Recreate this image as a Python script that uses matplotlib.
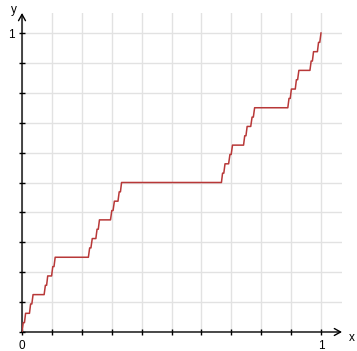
import numpy as np
import matplotlib
matplotlib.use('Agg')
import matplotlib.pyplot as plt

# plateaus of the staircase: start, end and level of each flat piece
flat_x0 = [0.0041, 0.012, 0.0288, 0.037, 0.0782, 0.086, 0.1029, 0.111,
           0.2263, 0.235, 0.2510, 0.259, 0.3004, 0.309, 0.3251, 0.333,
           0.6708, 0.679, 0.6955, 0.704, 0.7449, 0.753, 0.7695, 0.778,
           0.8930, 0.901, 0.9177, 0.926, 0.9671, 0.975, 0.9918]
flat_x1 = [0.0082, 0.025, 0.0329, 0.074, 0.0823, 0.099, 0.1070, 0.222,
           0.2305, 0.247, 0.2551, 0.296, 0.3045, 0.321, 0.3292, 0.667,
           0.6749, 0.691, 0.6996, 0.741, 0.7490, 0.765, 0.7737, 0.889,
           0.8971, 0.914, 0.9218, 0.963, 0.9712, 0.988, 0.9959]
levels = [0.03125, 0.0625, 0.09375, 0.125, 0.15625, 0.1875, 0.21875, 0.25,
          0.28125, 0.3125, 0.34375, 0.375, 0.40625, 0.4375, 0.46875, 0.5,
          0.53125, 0.5625, 0.59375, 0.625, 0.65625, 0.6875, 0.71875, 0.75,
          0.78125, 0.8125, 0.84375, 0.875, 0.90625, 0.9375, 0.96875]

xs = [0.0]
ys = [0.0]
for a, b, lv in zip(flat_x0, flat_x1, levels):
    xs += [a, b]
    ys += [lv, lv]
xs.append(1.0)
ys.append(1.0)

plt.rcParams['font.family'] = ['Liberation Sans', 'DejaVu Sans']

fig = plt.figure(figsize=(3.57, 3.51), dpi=100)
ax = fig.add_axes([22 / 357, 19 / 351, 320 / 357, 319 / 351])
ax.set_xlim(0, 320 / 299)
ax.set_ylim(0, 319 / 299)

ticks = np.round(np.arange(0, 1.01, 0.1), 1)
ax.set_xticks(ticks)
ax.set_yticks(ticks)
ax.set_xticklabels(['0'] + [''] * 9 + ['1'])
ax.set_yticklabels([''] * 10 + ['1'])
ax.tick_params(direction='inout', length=5, width=1, labelsize=8.5,
               colors='black', pad=3)
ax.grid(True, color='#e2e2e2', lw=1)
ax.set_axisbelow(True)

for s in ax.spines.values():
    s.set_visible(False)

arrow = dict(arrowstyle='->,head_length=0.45,head_width=0.25', lw=1,
             color='black', shrinkA=0, shrinkB=0)
ax.annotate('', xy=(1, 0), xytext=(0, 0), xycoords='axes fraction',
            arrowprops=arrow)
ax.annotate('', xy=(0, 1), xytext=(0, 0), xycoords='axes fraction',
            arrowprops=arrow)

ax.plot(xs, ys, color='#b83838', lw=1.1, zorder=3)

ax.text(1.104, -0.02, 'x', fontsize=8.5, ha='center', va='center', clip_on=False)
ax.text(-0.027, 1.077, 'y', fontsize=8.5, ha='center', va='center', clip_on=False)

fig.savefig('out.png', dpi=100)
